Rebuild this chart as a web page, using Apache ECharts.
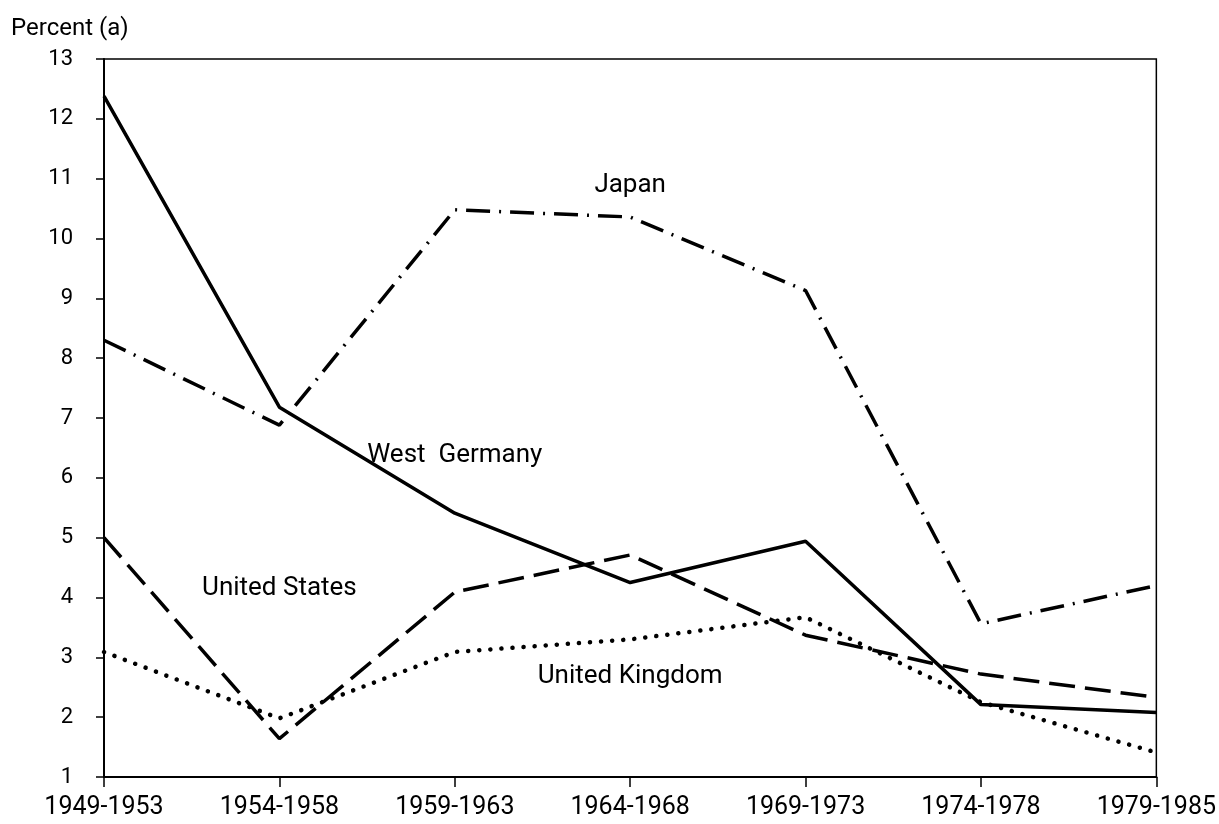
<!DOCTYPE html>
<html>
<head>
<meta charset="utf-8">
<script src="https://cdn.jsdelivr.net/npm/echarts@6/dist/echarts.min.js"></script>
<style>
    html, body { margin: 0; padding: 0; background: #fff; }
    #main { width: 1219px; height: 824px; }
</style>
</head>
<body>
<div id="main"></div>
<script>
// categories (periods) and series values
const periods = ['1949-1953', '1954-1958', '1959-1963', '1964-1968', '1969-1973', '1974-1978', '1979-1985'];
const westGermany = [12.38, 7.18, 5.41, 4.25, 4.94, 2.21, 2.08];
const japan = [8.3, 6.88, 10.48, 10.36, 9.13, 3.56, 4.2];
const unitedStates = [5.0, 1.64, 4.09, 4.71, 3.37, 2.72, 2.33];
const unitedKingdom = [3.09, 1.98, 3.09, 3.3, 3.67, 2.25, 1.41];

// in-plot labels: [text, category index, value]
const seriesLabels = [
    ['Japan', 2.92, 10.89],
    ['West  Germany', 2.26, 6.38],
    ['United States', 1.33, 4.15],
    ['United Kingdom', 3.17, 2.68]
];

const font = 'Roboto, "DejaVu Sans", sans-serif';

function lineSeries(name, data, lineStyle) {
    return {
        name: name,
        type: 'line',
        data: data,
        showSymbol: false,
        symbol: 'none',
        silent: true,
        lineStyle: Object.assign({ color: '#000', width: 3 }, lineStyle)
    };
}

var myChart = echarts.init(document.getElementById('main'));
let option = {
    animation: false,
    title: {
        text: 'Percent (a)',
        left: 6,
        top: 12,
        textStyle: { color: '#000', fontSize: 24, fontWeight: 'normal', fontFamily: font }
    },
    grid: {
        left: 104,
        right: 62,
        top: 59,
        bottom: 47,
        show: true,
        borderColor: '#000',
        borderWidth: 1.5
    },
    xAxis: {
        type: 'category',
        boundaryGap: false,
        data: periods,
        axisLine: { show: true, lineStyle: { color: '#000', width: 2 } },
        axisTick: { show: true, length: 10, lineStyle: { color: '#000', width: 1.5 } },
        axisLabel: { color: '#000', fontSize: 25, fontFamily: font, margin: 18, interval: 0 },
        splitLine: { show: false }
    },
    yAxis: {
        type: 'value',
        min: 1,
        max: 13,
        interval: 1,
        axisLine: { show: true, lineStyle: { color: '#000', width: 2 } },
        axisTick: { show: true, length: 8, lineStyle: { color: '#000', width: 1.5 } },
        axisLabel: { color: '#000', fontSize: 22, fontFamily: font, margin: 31 },
        splitLine: { show: false }
    },
    series: [
        lineSeries('West Germany', westGermany, { type: 'solid', width: 3.5 }),
        lineSeries('Japan', japan, { type: [24, 9, 2, 9], width: 3.5 }),
        lineSeries('United States', unitedStates, { type: [26, 10], width: 3.5 }),
        lineSeries('United Kingdom', unitedKingdom, { type: [0.1, 11], width: 4.5, cap: 'round' })
    ]
};
myChart.setOption(option);

// place the series names through the chart's own scales
let texts = seriesLabels.map(function (l) {
    let p = myChart.convertToPixel({ gridIndex: 0 }, [l[1], l[2]]);
    return {
        type: 'text',
        x: p[0],
        y: p[1],
        style: {
            text: l[0],
            fill: '#000',
            fontSize: 26,
            fontFamily: font,
            align: 'center',
            verticalAlign: 'middle'
        }
    };
});
myChart.setOption({ graphic: texts });
</script>
</body>
</html>
